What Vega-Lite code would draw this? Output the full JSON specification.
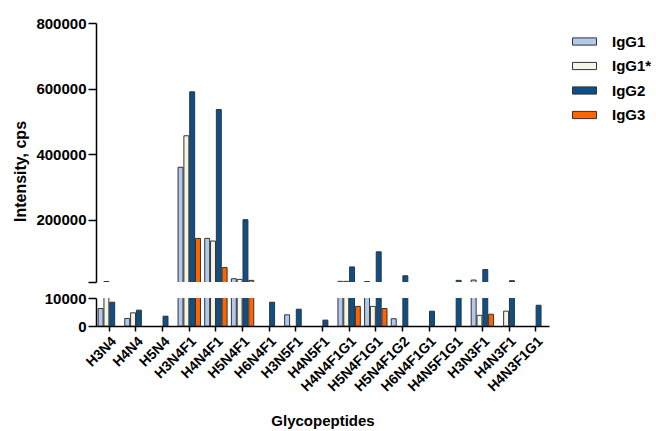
{
  "$schema": "https://vega.github.io/schema/vega-lite/v6.json",
  "padding": {"left": 12, "top": 16, "right": 5, "bottom": 5},
  "config": {
    "font": "Liberation Sans",
    "view": {"stroke": null},
    "axis": {
      "labelFont": "Liberation Sans", "labelFontWeight": "bold", "labelFontSize": 15, "labelColor": "#000",
      "titleFont": "Liberation Sans", "titleFontWeight": "bold", "titleFontSize": 16, "titleColor": "#000",
      "domainColor": "#000", "tickColor": "#000", "grid": false, "domainWidth": 1.5, "tickWidth": 1.5
    },
    "legend": {"labelFont": "Liberation Sans", "labelFontWeight": "bold", "labelFontSize": 15, "labelColor": "#000"}
  },
  "data": {"values": [
    {"g": "H3N4", "s": "IgG1", "v": 6250},
    {"g": "H3N4", "s": "IgG1*", "v": 11500},
    {"g": "H3N4", "s": "IgG2", "v": 8500},
    {"g": "H4N4", "s": "IgG1", "v": 2700},
    {"g": "H4N4", "s": "IgG1*", "v": 4700},
    {"g": "H4N4", "s": "IgG2", "v": 5650},
    {"g": "H5N4", "s": "IgG2", "v": 3500},
    {"g": "H3N4F1", "s": "IgG1", "v": 360000},
    {"g": "H3N4F1", "s": "IgG1*", "v": 456000},
    {"g": "H3N4F1", "s": "IgG2", "v": 590000},
    {"g": "H3N4F1", "s": "IgG3", "v": 143000},
    {"g": "H4N4F1", "s": "IgG1", "v": 143000},
    {"g": "H4N4F1", "s": "IgG1*", "v": 135000},
    {"g": "H4N4F1", "s": "IgG2", "v": 536000},
    {"g": "H4N4F1", "s": "IgG3", "v": 54000},
    {"g": "H5N4F1", "s": "IgG1", "v": 20000},
    {"g": "H5N4F1", "s": "IgG1*", "v": 18000},
    {"g": "H5N4F1", "s": "IgG2", "v": 200000},
    {"g": "H5N4F1", "s": "IgG3", "v": 15000},
    {"g": "H6N4F1", "s": "IgG2", "v": 8500},
    {"g": "H3N5F1", "s": "IgG1", "v": 4000},
    {"g": "H3N5F1", "s": "IgG2", "v": 6000},
    {"g": "H4N5F1", "s": "IgG2", "v": 2100},
    {"g": "H4N4F1G1", "s": "IgG1", "v": 12000},
    {"g": "H4N4F1G1", "s": "IgG1*", "v": 12000},
    {"g": "H4N4F1G1", "s": "IgG2", "v": 56000},
    {"g": "H4N4F1G1", "s": "IgG3", "v": 7000},
    {"g": "H5N4F1G1", "s": "IgG1", "v": 11500},
    {"g": "H5N4F1G1", "s": "IgG1*", "v": 7000},
    {"g": "H5N4F1G1", "s": "IgG2", "v": 102000},
    {"g": "H5N4F1G1", "s": "IgG3", "v": 6250},
    {"g": "H5N4F1G2", "s": "IgG1", "v": 2600},
    {"g": "H5N4F1G2", "s": "IgG2", "v": 29000},
    {"g": "H6N4F1G1", "s": "IgG2", "v": 5300},
    {"g": "H4N5F1G1", "s": "IgG2", "v": 15000},
    {"g": "H3N3F1", "s": "IgG1", "v": 16000},
    {"g": "H3N3F1", "s": "IgG1*", "v": 3800},
    {"g": "H3N3F1", "s": "IgG2", "v": 48000},
    {"g": "H3N3F1", "s": "IgG3", "v": 4200},
    {"g": "H4N3F1", "s": "IgG1*", "v": 5300},
    {"g": "H4N3F1", "s": "IgG2", "v": 14000},
    {"g": "H4N3F1G1", "s": "IgG2", "v": 7400}
  ]},
  "spacing": 8,
  "vconcat": [
    {
      "width": 453, "height": 259,
      "mark": {"type": "bar", "clip": true, "stroke": "#333", "strokeWidth": 1},
      "encoding": {
        "x": {"field": "g", "type": "nominal",
          "sort": ["H3N4","H4N4","H5N4","H3N4F1","H4N4F1","H5N4F1","H6N4F1","H3N5F1","H4N5F1","H4N4F1G1","H5N4F1G1","H5N4F1G2","H6N4F1G1","H4N5F1G1","H3N3F1","H4N3F1","H4N3F1G1"],
          "scale": {"domain": ["H3N4","H4N4","H5N4","H3N4F1","H4N4F1","H5N4F1","H6N4F1","H3N5F1","H4N5F1","H4N4F1G1","H5N4F1G1","H5N4F1G2","H6N4F1G1","H4N5F1G1","H3N3F1","H4N3F1","H4N3F1G1"], "paddingInner": 0.16, "paddingOuter": 0.08},
          "axis": null},
        "xOffset": {"field": "s", "type": "nominal", "scale": {"domain": ["IgG1","IgG1*","IgG2","IgG3"], "paddingInner": 0.15}},
        "y": {"field": "v", "type": "quantitative",
          "scale": {"domain": [10000, 800000], "zero": false, "nice": false},
          "axis": {"values": [10000, 200000, 400000, 600000, 800000], "format": "d",
            "labelExpr": "datum.value < 100000 ? '' : datum.label",
            "tickSize": 8, "labelPadding": 2, "title": "Intensity, cps", "titleY": 148, "titlePadding": 7}},
        "color": {"field": "s", "type": "nominal",
          "scale": {"domain": ["IgG1","IgG1*","IgG2","IgG3"], "range": ["#b4c8ea","#f3f5e8","#0b4f8b","#ff6400"]},
          "legend": {"title": null, "orient": "none", "legendX": 476, "legendY": 6,
            "symbolType": "M-1,-0.3H1V0.3H-1Z", "symbolSize": 576, "symbolStrokeColor": "#333", "symbolStrokeWidth": 1,
            "labelOffset": 15, "rowPadding": 3.5}}
      }
    },
    {
      "width": 453, "height": 28,
      "mark": {"type": "bar", "clip": true, "stroke": "#333", "strokeWidth": 1},
      "encoding": {
        "x": {"field": "g", "type": "nominal",
          "sort": ["H3N4","H4N4","H5N4","H3N4F1","H4N4F1","H5N4F1","H6N4F1","H3N5F1","H4N5F1","H4N4F1G1","H5N4F1G1","H5N4F1G2","H6N4F1G1","H4N5F1G1","H3N3F1","H4N3F1","H4N3F1G1"],
          "scale": {"domain": ["H3N4","H4N4","H5N4","H3N4F1","H4N4F1","H5N4F1","H6N4F1","H3N5F1","H4N5F1","H4N4F1G1","H5N4F1G1","H5N4F1G2","H6N4F1G1","H4N5F1G1","H3N3F1","H4N3F1","H4N3F1G1"], "paddingInner": 0.16, "paddingOuter": 0.08},
          "axis": {"labelAngle": -45, "labelFontSize": 14, "labelColor": "#000000", "tickSize": 5, "labelPadding": 3, "title": "Glycopeptides", "titleFontSize": 15, "titlePadding": 20}},
        "xOffset": {"field": "s", "type": "nominal", "scale": {"domain": ["IgG1","IgG1*","IgG2","IgG3"], "paddingInner": 0.15}},
        "y": {"field": "v", "type": "quantitative",
          "scale": {"domain": [0, 10000], "nice": false},
          "axis": {"values": [0, 10000], "format": "d", "tickSize": 8, "labelPadding": 2, "title": null}},
        "color": {"field": "s", "type": "nominal",
          "scale": {"domain": ["IgG1","IgG1*","IgG2","IgG3"], "range": ["#b4c8ea","#f3f5e8","#0b4f8b","#ff6400"]}}
      }
    }
  ]
}
